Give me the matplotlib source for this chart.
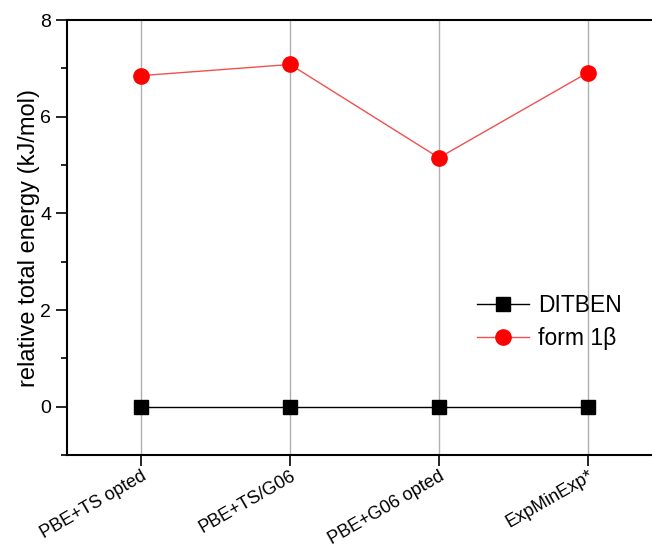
import matplotlib
matplotlib.use("Agg")
import matplotlib.pyplot as plt
from matplotlib.ticker import MultipleLocator

plt.rcParams['font.family'] = ['Liberation Sans', 'DejaVu Sans']

categories = ["PBE+TS opted", "PBE+TS/G06", "PBE+G06 opted", "ExpMinExp*"]
ditben = [0.0, 0.0, 0.0, 0.0]
form1b = [6.85, 7.08, 5.15, 6.91]

fig = plt.figure(figsize=(6.52, 5.44), dpi=100)
ax = fig.add_axes([0.1028, 0.1636, 0.9126, 0.7996])

x = list(range(len(categories)))
ax.plot(x, ditben, color='black', lw=1, marker='s', ms=9.5, label='DITBEN', zorder=3)
ax.plot(x, form1b, color='#f05050', lw=1, marker='o', ms=11, mfc='red', mec='red', label='form 1β', zorder=3)

ax.set_xlim(-0.5, 3.5)
ax.set_ylim(-1, 8)
ax.set_xticks(x)
ax.set_xticklabels(categories, rotation=30, ha='right', rotation_mode='anchor', fontsize=13)
ax.yaxis.set_major_locator(MultipleLocator(2))
ax.yaxis.set_minor_locator(MultipleLocator(1))
ax.tick_params(axis='both', which='major', direction='out', length=8, width=1.2)
ax.tick_params(axis='y', which='major', labelsize=14)
ax.tick_params(axis='y', which='minor', direction='out', length=4, width=1.2)
ax.tick_params(axis='x', which='major', pad=1)
ax.xaxis.grid(True, color='#b0b0b0', lw=1)
ax.set_axisbelow(True)
for s in ax.spines.values():
    s.set_linewidth(1.5)
ax.set_ylabel('relative total energy (kJ/mol)', fontsize=17, labelpad=0)

ax.legend(loc='upper left', bbox_to_anchor=(456/652, 1 - 273/544), bbox_transform=fig.transFigure,
          frameon=False, fontsize=16.5, handlelength=2.3, handletextpad=0.4, labelspacing=0.47)

fig.savefig('out.png', dpi=100)
